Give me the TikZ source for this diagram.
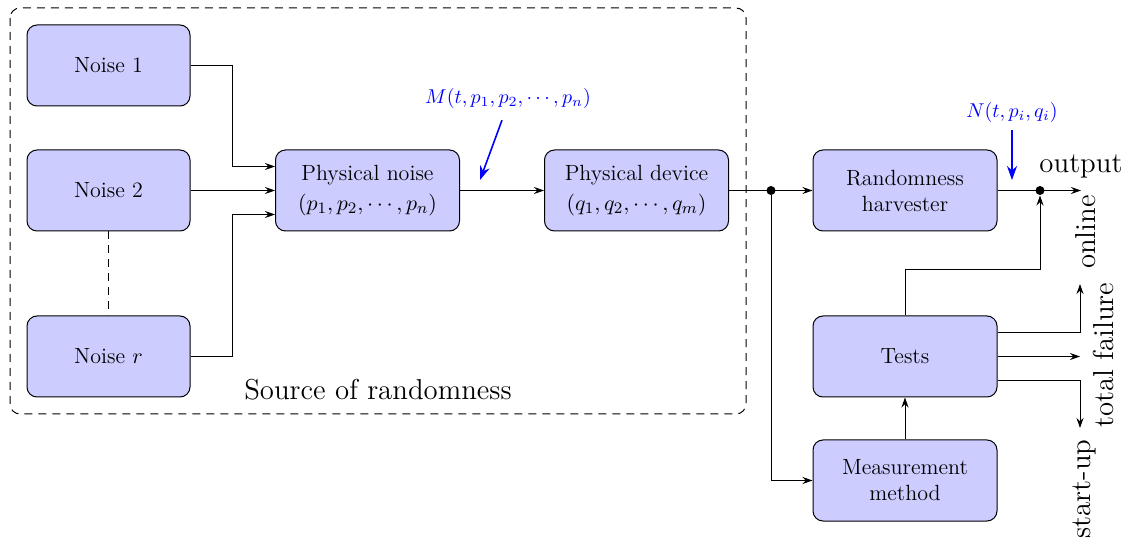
\documentclass[tikz,border=0pt]{standalone}
\usetikzlibrary{arrows.meta}
\begin{document}
\begin{tikzpicture}[x=0.5pt,y=-0.5pt, line width=0.5pt,
  box/.style={draw, rounded corners=5pt, fill=blue!20, minimum width=92pt, minimum height=40.5pt, align=center, font=\fontsize{11}{13}\selectfont},
  noisebox/.style={box, minimum width=81.5pt},
  arr/.style={-{Stealth[length=5pt,width=3.5pt]}},
  barr/.style={blue, thick, -{Stealth[length=7pt,width=5pt]}},
  dot/.style={circle, fill, inner sep=0pt, minimum size=4.5pt},
  side/.style={font=\fontsize{14.4}{16}\selectfont, rotate=90},
  lbl/.style={font=\fontsize{14.4}{16}\selectfont},
  blbl/.style={blue, font=\fontsize{10}{12}\selectfont}]
\useasboundingbox (0,0) rectangle (1131,545);

\draw[dash pattern=on 4pt off 3pt, rounded corners=5pt] (10,8) rectangle (746,414);
\node[lbl] (src) at (378,390) {Source of randomness};

\node[noisebox] (n1) at (108.5,65.5) {Noise 1};
\node[noisebox] (n2) at (108.5,190.5) {Noise 2};
\node[noisebox] (nr) at (108.5,356.5) {Noise $r$};
\node[box] (pn) at (367.5,190.5) {Physical noise\\[2pt]$(p_1,p_2,\cdots,p_n)$};
\node[box] (pd) at (636.5,190.5) {Physical device\\[2pt]$(q_1,q_2,\cdots,q_m)$};
\node[box] (rh) at (905,190.5) {Randomness\\harvester};
\node[box] (te) at (905,356.5) {Tests};
\node[box] (mm) at (905,480.5) {Measurement\\method};

\draw[dash pattern=on 4pt off 3pt] (n2) -- (nr);
\draw[arr] (n1.east) -- ++(42,0) |- ([yshift=12pt]pn.west);
\draw[arr] (n2) -- (pn);
\draw[arr] (nr.east) -- ++(42,0) |- ([yshift=-12pt]pn.west);
\draw[arr] (pn) -- (pd);
\draw[arr] (pd) -- (rh);
\node[dot] (d1) at (771,190.5) {};
\draw[arr] (d1) |- (mm.west);

\coordinate (out) at (1081,190.5);
\draw[arr] (rh) -- (out);
\node[dot] (d2) at (1040,190.5) {};
\draw[arr] (te.north) -- ++(0,-46) -| (d2.south);
\draw[arr] (mm) -- (te);

\coordinate (on) at (1080,284);
\coordinate (tf) at (1080,356.5);
\coordinate (su) at (1080,428);
\draw[arr] ([yshift=12pt]te.east) -| (on);
\draw[arr] (te.east) -- (tf);
\draw[arr] ([yshift=-12pt]te.east) -| (su);

\node[lbl] (outl) at (1081,166) {output};
\node[side] (onl) at (1086,232) {online};
\node[side] (tfl) at (1103,355) {total failure};
\node[side] (sul) at (1084,489) {start-up};

\node[blbl] (ml) at (508,99) {$M(t,p_1,p_2,\cdots,p_n)$};
\coordinate (ma) at (480,180);
\draw[barr] ([xshift=-3pt,yshift=-2pt]ml.south) -- (ma);
\node[blbl] (nl) at (1012,113) {$N(t,p_i,q_i)$};
\coordinate (na) at (1012,180);
\draw[barr] (nl.south) -- (na);
\end{tikzpicture}
\end{document}
